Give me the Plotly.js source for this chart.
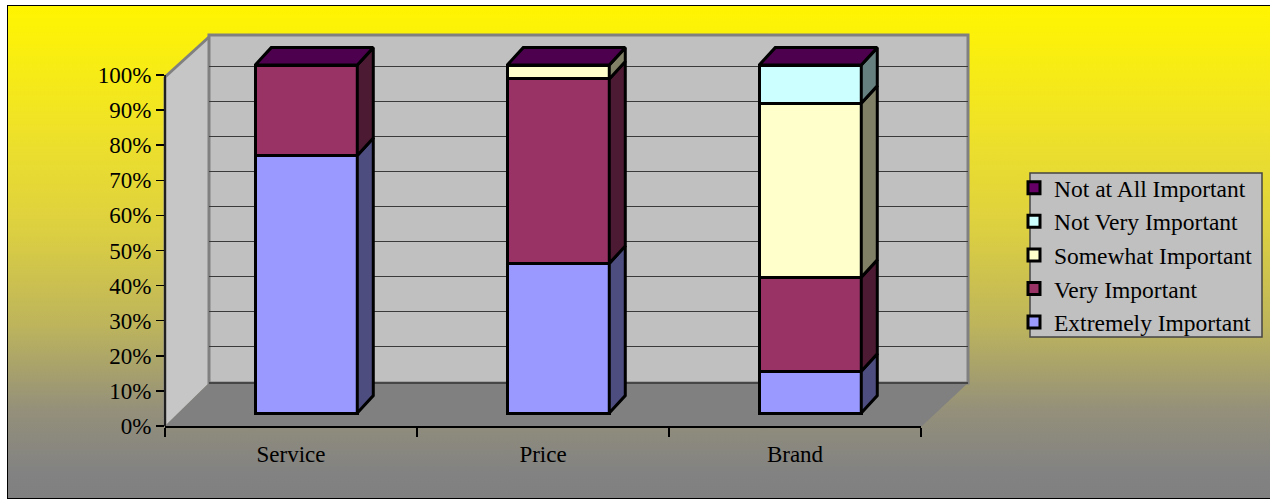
<!DOCTYPE html>
<html>
<head>
<meta charset="utf-8">
<script src="https://cdn.plot.ly/plotly-3.0.1.min.js"></script>
<style>
  html, body { margin:0; padding:0; background:#ffffff; }
  #frame {
    position:absolute; left:7px; top:5px; width:1262px; height:492px;
    border:1.5px solid #000;
    background: linear-gradient(to bottom, #FFF500 0%, #FCF208 5%, #EFE228 25%, #DDD040 45%, #BDB45C 65%, #94907A 82%, #828282 95%, #808080 100%);
  }
  #chart { position:absolute; left:0; top:0; width:1270px; height:499px; }
</style>
</head>
<body>
<div id="frame"></div>
<div id="chart"></div>
<script>
// ---- data ----
const categories = ['Service', 'Price', 'Brand'];
const seriesNames = ['Extremely Important', 'Very Important', 'Somewhat Important', 'Not Very Important', 'Not at All Important'];
const extremelyImportant = [74, 43, 12];
const veryImportant = [26, 53, 27];
const somewhatImportant = [0, 4, 50];
const notVeryImportant = [0, 0, 11];
const notAtAllImportant = [0, 0, 0];
const seriesColors = ['#9999FF', '#993366', '#FFFFCC', '#CCFFFF', '#660066'];
const yTickVals = [0, 10, 20, 30, 40, 50, 60, 70, 80, 90, 100];
const yTickText = ['0%', '10%', '20%', '30%', '40%', '50%', '60%', '70%', '80%', '90%', '100%'];

const seriesValues = [extremelyImportant, veryImportant, somewhatImportant, notVeryImportant, notAtAllImportant];

// ---- styles / 3D look ----
const BAR_OFFSET = -0.142, BAR_WIDTH = 0.405;
const DEPTH_X = 0.0635, DEPTH_Y = 5.0;
const FONT = '"Liberation Serif", "Times New Roman", serif';

function shade(hex, f) {
  const n = parseInt(hex.slice(1), 16);
  const r = Math.round(((n >> 16) & 255) * f), g = Math.round(((n >> 8) & 255) * f), b = Math.round((n & 255) * f);
  return 'rgb(' + r + ',' + g + ',' + b + ')';
}

// plot area in pixels: x 165..968, y 30..426
const L = 165, R = 968, T = 30, B = 426;
const px = x => (x - L) / (R - L);
const py = y => (B - y) / (B - T);

const catIdx = categories.map((c, i) => i);
const traces = [];

// empty trace to create the back-wall subplot
traces.push({type:'scatter', x:[], y:[], xaxis:'x', yaxis:'y', showlegend:false, hoverinfo:'skip'});

// front faces (stacked bars)
seriesValues.forEach((vals, s) => {
  traces.push({
    type:'bar', name:seriesNames[s], x:catIdx, y:vals, xaxis:'x2', yaxis:'y3',
    width:BAR_WIDTH, offset:BAR_OFFSET,
    marker:{color:seriesColors[s], line:{color:'#000', width:3}},
    legendrank: 10 - s
  });
});

// side faces
const base = catIdx.map(() => 0);
seriesValues.forEach((vals, s) => {
  const xs = [], ys = [];
  vals.forEach((v, i) => {
    if (v > 0) {
      const xr = i + BAR_OFFSET + BAR_WIDTH, b0 = base[i], b1 = base[i] + v;
      xs.push(xr, xr + DEPTH_X, xr + DEPTH_X, xr, xr, null);
      ys.push(b0, b0 + DEPTH_Y, b1 + DEPTH_Y, b1, b0, null);
    }
    base[i] += v;
  });
  if (xs.length) {
    traces.push({type:'scatter', mode:'lines', x:xs, y:ys, xaxis:'x2', yaxis:'y3', fill:'toself',
      fillcolor:shade(seriesColors[s], 0.5), line:{color:'#000', width:3}, showlegend:false, hoverinfo:'skip'});
  }
});
// top faces
{
  const xs = [], ys = [];
  catIdx.forEach(i => {
    const xl = i + BAR_OFFSET, xr = xl + BAR_WIDTH, t = base[i];
    xs.push(xl, xl + DEPTH_X, xr + DEPTH_X, xr, xl, null);
    ys.push(t, t + DEPTH_Y, t + DEPTH_Y, t, t, null);
  });
  traces.push({type:'scatter', mode:'lines', x:xs, y:ys, xaxis:'x2', yaxis:'y3', fill:'toself',
    fillcolor:shade(seriesColors[4], 0.75), line:{color:'#000', width:3}, showlegend:false, hoverinfo:'skip'});
}

const pathOf = pts => pts.map((p, k) => (k ? 'L' : 'M') + px(p[0]) + ',' + py(p[1])).join(' ') + ' Z';
const lineShape = (x0, y0, x1, y1, color, w) => ({type:'line', xref:'paper', yref:'paper', layer:'below',
  x0:px(x0), y0:py(y0), x1:px(x1), y1:py(y1), line:{color:color, width:w}});

const shapes = [
  {type:'path', xref:'paper', yref:'paper', layer:'below', path:pathOf([[165,77],[209,37],[209,383],[165,426]]),
    fillcolor:'#C6C6C6', line:{width:0}},
  {type:'rect', xref:'paper', yref:'paper', layer:'below', x0:px(209), x1:px(968), y0:py(383), y1:py(35),
    fillcolor:'#C0C0C0', line:{color:'#808080', width:3}},
  {type:'path', xref:'paper', yref:'paper', layer:'below', path:pathOf([[165,426],[209,383],[968,383],[922,426]]),
    fillcolor:'#808080', line:{width:0}},
  lineShape(165, 77, 209, 37, '#808080', 3),
  lineShape(165, 77, 165, 426, '#808080', 3),
  lineShape(209, 383, 968, 383, '#333333', 1.5),
  {type:'rect', xref:'paper', yref:'paper', layer:'below', x0:px(1030), x1:px(1262), y0:py(337), y1:py(173),
    fillcolor:'#C0C0C0', line:{color:'#444444', width:1.5}},
  {type:'line', xref:'paper', yref:'y2', layer:'above', x0:0, x1:0, y0:yTickVals[0], y1:yTickVals[yTickVals.length-1],
    line:{color:'#000', width:1.5}}
];

const layout = {
  width:1270, height:499,
  margin:{l:L, r:1270 - R, t:T, b:499 - B, pad:0, autoexpand:false},
  paper_bgcolor:'rgba(0,0,0,0)', plot_bgcolor:'rgba(0,0,0,0)',
  font:{family:FONT, size:23, color:'#000'},
  barmode:'stack',
  showlegend:true,
  legend:{x:px(1014), y:py(166), xanchor:'left', yanchor:'top', bgcolor:'rgba(0,0,0,0)', borderwidth:0,
    font:{family:FONT, size:23.5, color:'#000'}, traceorder:'normal'},
  xaxis:{domain:[px(209), 1], range:[0, 1], visible:false, fixedrange:true},
  yaxis:{domain:[py(383), py(37)], range:[9.63, 108.49], tickmode:'array', tickvals:yTickVals.slice(2),
    showgrid:true, gridcolor:'#3a3a3a', gridwidth:1.5, showticklabels:false, ticks:'', zeroline:false, showline:false, fixedrange:true},
  xaxis2:{domain:[0, px(921)], anchor:'y2', range:[-0.5, categories.length - 0.5], tickmode:'array', tickvals:catIdx,
    ticktext:categories, ticks:'', showline:true, linecolor:'#000', linewidth:1.5, showgrid:false, zeroline:false,
    ticklabelstandoff:7,
    minor:{tickmode:'array', tickvals:catIdx.concat([categories.length]).map(v => v - 0.5), ticks:'outside', ticklen:9,
      tickcolor:'#000', tickwidth:1.5, showgrid:false},
    tickfont:{family:FONT, size:23, color:'#000'}, fixedrange:true},
  yaxis2:{domain:[0, 1], anchor:'x2', range:[0, 112.82], tickmode:'array', tickvals:yTickVals, ticktext:yTickText,
    ticks:'outside', ticklen:8, tickcolor:'#000', tickwidth:1.5, showgrid:false, zeroline:false, showline:false,
    tickfont:{family:FONT, size:23, color:'#000'}, fixedrange:true},
  yaxis3:{overlaying:'y2', anchor:'x2', range:[-3.736, 110.06], visible:false, fixedrange:true},
  shapes:shapes
};

Plotly.newPlot('chart', traces, layout, {displayModeBar:false, staticPlot:true});
</script>
</body>
</html>
